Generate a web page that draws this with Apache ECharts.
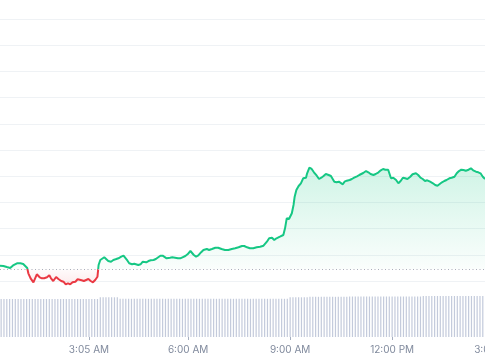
<!DOCTYPE html>
<html><head><meta charset="utf-8">
<script src="https://cdn.jsdelivr.net/npm/echarts@6/dist/echarts.min.js"></script>
<style>html,body{margin:0;padding:0;background:#fff}#c{width:485px;height:360px}</style>
</head><body><div id="c"></div>
<script>
// Time of each price sample, minutes after midnight
const priceMinutes = [
  28,34,40,46,51,58,64,69,72,76,
  78,82,87,90,93,98,102,106,111,115,118,122,127,131,136,140,144,148,152,156,161,165,168,172,176,180,184,188,192,196,200,
  202,205,208,212,215,219,224,228,232,237,242,246,249,253,256,261,265,268,272,276,280,283,286,290,294,299,303,306,311,315,318,322,325,328,332,337,342,346,350,355,359,364,366,370,374,378,383,
  387,393,397,402,408,413,419,425,431,437,443,449,455,459,464,469,475,481,487,493,499,503,508,512,516,522,528,531,534,538,543,546,548,551,555,
  559,563,568,570,574,578,582,587,591,595,599,603,608,612,615,618,622,626,629,633,636,640,645,649,653,658,662,665,669,674,678,682,687,691,696,700,704,708,
  713,718,722,727,731,735,739,743,747,752,756,762,766,770,774,778,782,787,792,796,800,803,808,812,816,821,825,830,834,838,842,846,850,855,859,863,868,872,876,880,884
];
const priceValues = [
  2.584,2.573,2.534,2.496,2.592,2.676,2.676,2.649,2.592,2.496,
  2.294,2.103,1.950,1.935,2.256,2.141,2.103,2.103,2.141,2.218,2.103,2.000,2.153,2.076,2.000,1.973,1.874,1.912,1.874,1.950,1.973,2.065,2.011,2.027,2.000,2.038,2.076,2.000,1.950,2.038,2.164,
  2.611,2.802,2.866,2.905,2.866,2.763,2.737,2.802,2.828,2.866,2.927,2.966,2.927,2.775,2.676,2.637,2.660,2.584,2.611,2.637,2.737,2.698,2.714,2.763,2.790,2.802,2.840,2.916,2.966,2.966,2.943,2.866,2.840,2.889,2.905,2.889,2.866,2.866,2.905,2.954,3.019,3.145,3.118,2.992,2.930,2.980,3.100,
  3.183,3.221,3.183,3.221,3.271,3.271,3.221,3.183,3.183,3.221,3.248,3.286,3.336,3.336,3.286,3.248,3.248,3.286,3.309,3.347,3.500,3.630,3.653,3.565,3.630,3.691,3.756,4.011,4.393,4.366,4.584,4.901,5.218,5.473,5.626,
  5.729,5.920,5.943,6.111,6.324,6.275,6.149,6.019,5.893,5.943,6.008,6.084,6.046,6.008,5.943,5.790,5.767,5.790,5.767,5.691,5.790,5.828,5.855,5.893,5.943,5.996,6.046,6.095,6.122,6.198,6.149,6.084,6.046,6.084,6.149,6.225,6.275,6.248,
  6.248,5.920,5.943,5.855,5.729,5.817,5.943,5.920,5.893,5.981,6.073,6.111,6.046,5.943,5.893,5.817,5.844,5.790,5.729,5.664,5.637,5.702,5.767,5.817,5.855,5.920,5.943,5.981,6.111,6.198,6.248,6.237,6.210,6.248,6.302,6.225,6.172,6.149,6.111,5.981,5.893
];
const openPrice = 2.447;

// Volume bars: one every 5 minutes starting at 0:30
const volumeStartMinute = 30;
const volumeStepMinutes = 5;
const volumeValues = [
  38.0,38.0,38.0,38.0,38.0,38.0,38.0,38.0,38.0,38.0,
  38.0,38.0,38.0,38.0,38.0,38.0,38.0,38.0,38.0,38.0,
  38.0,38.0,38.0,38.0,38.0,38.0,38.0,38.0,38.0,38.0,
  38.0,38.0,38.0,38.0,38.0,
  39.7,39.7,39.7,39.7,39.7,39.7,39.7,
  38.2,38.2,38.2,38.2,38.2,38.2,38.2,38.2,38.2,38.2,
  38.2,38.2,38.2,38.2,38.2,38.2,38.2,38.2,38.2,38.2,
  38.2,38.2,38.2,38.2,38.2,38.2,38.2,38.2,38.2,38.2,
  38.2,38.2,38.2,38.2,38.2,38.2,38.2,38.2,38.2,38.2,
  38.2,38.2,38.2,38.2,38.2,38.2,38.2,38.2,38.2,38.2,
  38.2,38.2,38.2,38.2,38.2,38.2,38.2,38.2,38.2,38.2,
  39.7,39.7,39.7,39.7,39.7,39.7,39.7,
  40.2,40.2,40.2,40.2,40.2,40.2,40.2,40.2,40.2,40.2,40.2,40.2,40.2,40.2,
  40.5,40.5,40.5,40.5,40.5,40.5,40.5,40.5,40.5,40.5,
  40.5,40.5,40.5,40.5,40.5,40.5,40.5,40.5,40.5,40.5,
  40.5,40.5,40.5,40.5,40.5,40.5,
  41.0,41.0,41.0,41.0,41.0,41.0,41.0,41.0,41.0,41.0,
  41.0,41.0,41.0,41.0,41.0,41.0,41.0,41.0,41.0,41.0,
  41.0,41.0,41.0
];

const tickMinutes = [185, 360, 540, 720, 900];

const X_MIN = 28, X_MAX = 963.3;

function fmtTime(m) {
  const h = Math.floor(m / 60), mm = m % 60;
  const ap = h < 12 ? 'AM' : 'PM';
  let h12 = h % 12; if (h12 === 0) h12 = 12;
  return h12 + ':' + String(mm).padStart(2, '0') + ' ' + ap;
}

const priceData = priceMinutes.map((t, i) => [t, priceValues[i]]);
const volumeData = volumeValues.map((v, i) => [volumeStartMinute + i * volumeStepMinutes, v]);

const chart = echarts.init(document.getElementById('c'), null, { renderer: 'canvas' });
const option = {
  animation: false,
  backgroundColor: '#ffffff',
  grid: [
    { left: 0, top: 19, width: 530, height: 262, outerBoundsMode: 'none', containLabel: false },
    { left: 0, top: 287, width: 530, height: 50, outerBoundsMode: 'none', containLabel: false }
  ],
  xAxis: [
    { type: 'value', gridIndex: 0, min: X_MIN, max: X_MAX, show: false },
    { type: 'value', gridIndex: 1, min: X_MIN, max: X_MAX,
      axisLine: { show: false }, splitLine: { show: false },
      axisTick: { show: true, length: 3, lineStyle: { color: '#a6afc0' }, customValues: tickMinutes },
      axisLabel: { customValues: tickMinutes, formatter: v => fmtTime(v), color: '#808a9d',
        fontFamily: 'Inter', fontSize: 10, margin: 8 } }
  ],
  yAxis: [
    { type: 'value', gridIndex: 0, min: 2, max: 12, interval: 1,
      axisLine: { show: false }, axisTick: { show: false }, axisLabel: { show: false },
      splitLine: { lineStyle: { color: '#eff2f5', width: 1 } } },
    { type: 'value', gridIndex: 1, min: 0, max: 50, show: false, splitLine: { show: false } }
  ],
  series: [
    { type: 'line', xAxisIndex: 0, yAxisIndex: 0, data: priceData, showSymbol: false, symbol: 'none',
      clip: false,
      lineStyle: { width: 2, color: 'rgb(22,199,132)' },
      areaStyle: { origin: openPrice, opacity: 1, color: 'rgba(22,199,132,0.1)' },
      markLine: { silent: true, symbol: 'none', label: { show: false },
        lineStyle: { color: '#a9afbb', width: 1, type: [1, 2.5] },
        data: [{ yAxis: openPrice }] } },
    { type: 'bar', xAxisIndex: 1, yAxisIndex: 1, data: volumeData, barWidth: 1.2,
      itemStyle: { color: '#c3cadb' } }
  ]
};
chart.setOption(option);

try {
  const yTop = chart.convertToPixel({ gridIndex: 0 }, [X_MIN, Math.max(...priceValues)])[1];
  const yBase = chart.convertToPixel({ gridIndex: 0 }, [X_MIN, openPrice])[1];
  const yBot = chart.convertToPixel({ gridIndex: 0 }, [X_MIN, Math.min(...priceValues)])[1];
  const off = (yBase - yTop) / (yBot - yTop);
  const G = 'rgb(22,199,132)', R = 'rgb(234,57,67)';
  chart.setOption({ series: [{
    lineStyle: { width: 2, color: new echarts.graphic.LinearGradient(0, yTop, 0, yBot, [
      { offset: 0, color: G }, { offset: off, color: G },
      { offset: off, color: R }, { offset: 1, color: R }], true) },
    areaStyle: { origin: openPrice, opacity: 1,
      color: new echarts.graphic.LinearGradient(0, yTop, 0, yBot, [
        { offset: 0, color: 'rgba(22,199,132,0.20)' },
        { offset: off, color: 'rgba(22,199,132,0.02)' },
        { offset: off, color: 'rgba(234,57,67,0.02)' },
        { offset: 1, color: 'rgba(234,57,67,0.10)' }
      ], true) }
  }] });
} catch (e) { console.error(e); }
</script></body></html>
